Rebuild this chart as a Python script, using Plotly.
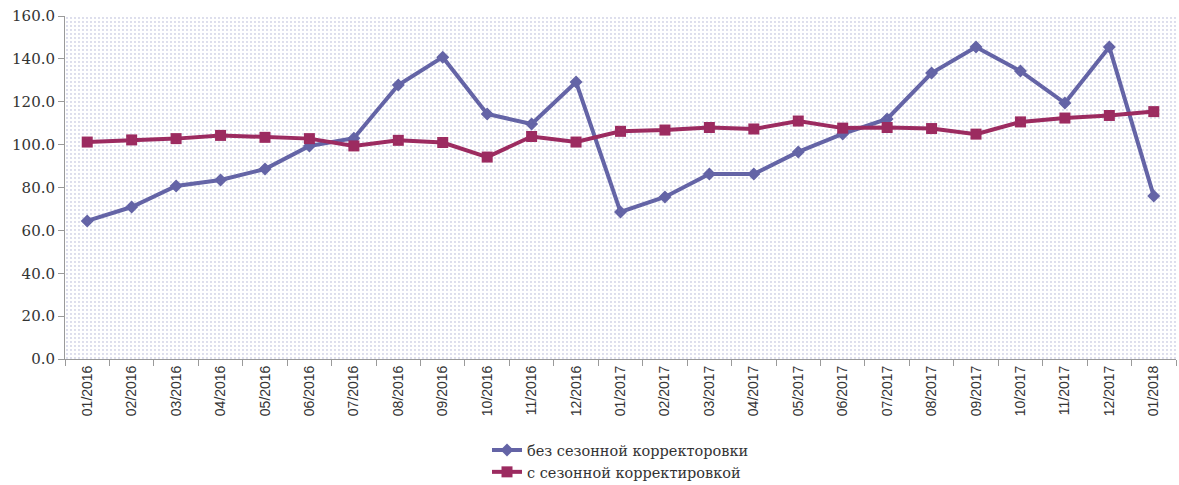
import plotly.graph_objects as go

months = ["01/2016", "02/2016", "03/2016", "04/2016", "05/2016", "06/2016", "07/2016",
          "08/2016", "09/2016", "10/2016", "11/2016", "12/2016", "01/2017", "02/2017",
          "03/2017", "04/2017", "05/2017", "06/2017", "07/2017", "08/2017", "09/2017",
          "10/2017", "11/2017", "12/2017", "01/2018"]

no_adj = [64.4, 70.9, 80.7, 83.5, 88.6, 99.4, 103.0, 127.8, 140.8, 114.3, 109.6, 129.2,
          68.6, 75.6, 86.3, 86.3, 96.6, 105.0, 112.0, 133.4, 145.5, 134.3, 119.4, 145.5, 76.0]

adj = [101.2, 102.2, 102.8, 104.3, 103.4, 102.8, 99.4, 102.0, 101.0, 94.2, 103.8, 101.2,
       106.2, 106.8, 108.0, 107.3, 111.0, 107.7, 108.0, 107.5, 104.9, 110.6, 112.4, 113.6, 115.4]

name_no_adj = "без сезонной корректоровки"
name_adj = "с сезонной корректировкой"

blue = "#6464a6"
red = "#9c2b60"

fig = go.Figure()

# dotted background decoration on hidden base axes
fig.add_trace(go.Bar(x=[0.5], y=[1], width=[1], xaxis="x", yaxis="y",
                     marker=dict(color="white", line=dict(width=0),
                                 pattern=dict(shape=".", fgcolor="#4f569e", bgcolor="white",
                                              size=4, solidity=0.1)),
                     showlegend=False, hoverinfo="skip"))

fig.add_trace(go.Scatter(x=months, y=no_adj, name=name_no_adj, mode="lines+markers",
                         xaxis="x2", yaxis="y2",
                         line=dict(color=blue, width=4),
                         marker=dict(symbol="diamond", size=10, color=blue)))
fig.add_trace(go.Scatter(x=months, y=adj, name=name_adj, mode="lines+markers",
                         xaxis="x2", yaxis="y2",
                         line=dict(color=red, width=4),
                         marker=dict(symbol="square", size=11, color=red)))

fig.update_layout(
    width=1179, height=485,
    margin=dict(l=65, r=3, t=16, b=126),
    paper_bgcolor="white", plot_bgcolor="white",
    xaxis=dict(range=[0, 1], visible=False, fixedrange=True),
    yaxis=dict(range=[0, 1], visible=False, fixedrange=True),
    xaxis2=dict(overlaying="x", anchor="y2", side="bottom", type="category", tickangle=-90,
                showgrid=False, showline=True, automargin=False,
                linecolor="#9a9a9a", linewidth=1, ticks="outside", tickson="boundaries",
                ticklen=6, tickcolor="#9a9a9a",
                tickfont=dict(family="Liberation Sans Narrow, Liberation Sans, sans-serif",
                              size=14, color="#333333"),
                range=[-0.5, 24.5]),
    yaxis2=dict(overlaying="y", anchor="x2", side="left", range=[0, 160], dtick=20,
                tickformat=".1f", showgrid=False, showline=True, automargin=False,
                linecolor="#9a9a9a", linewidth=1, ticks="outside", ticklen=6,
                tickcolor="#9a9a9a", zeroline=False,
                tickfont=dict(family="DejaVu Serif, serif", size=15, color="#333333")),
    legend=dict(x=0.5, xanchor="center", yref="container", y=0.105, yanchor="top",
                orientation="v",
                font=dict(family="DejaVu Serif, serif", size=14.5, color="#333333"),
                bgcolor="rgba(0,0,0,0)", tracegroupgap=0),
    showlegend=True,
)

post = ("document.body.style.margin='0';document.body.style.overflow='hidden';"
        "Plotly.relayout('{plot_id}', {width:1179, height:485});")
fig.write_html("out.html", post_script=post, config={"displayModeBar": False})
